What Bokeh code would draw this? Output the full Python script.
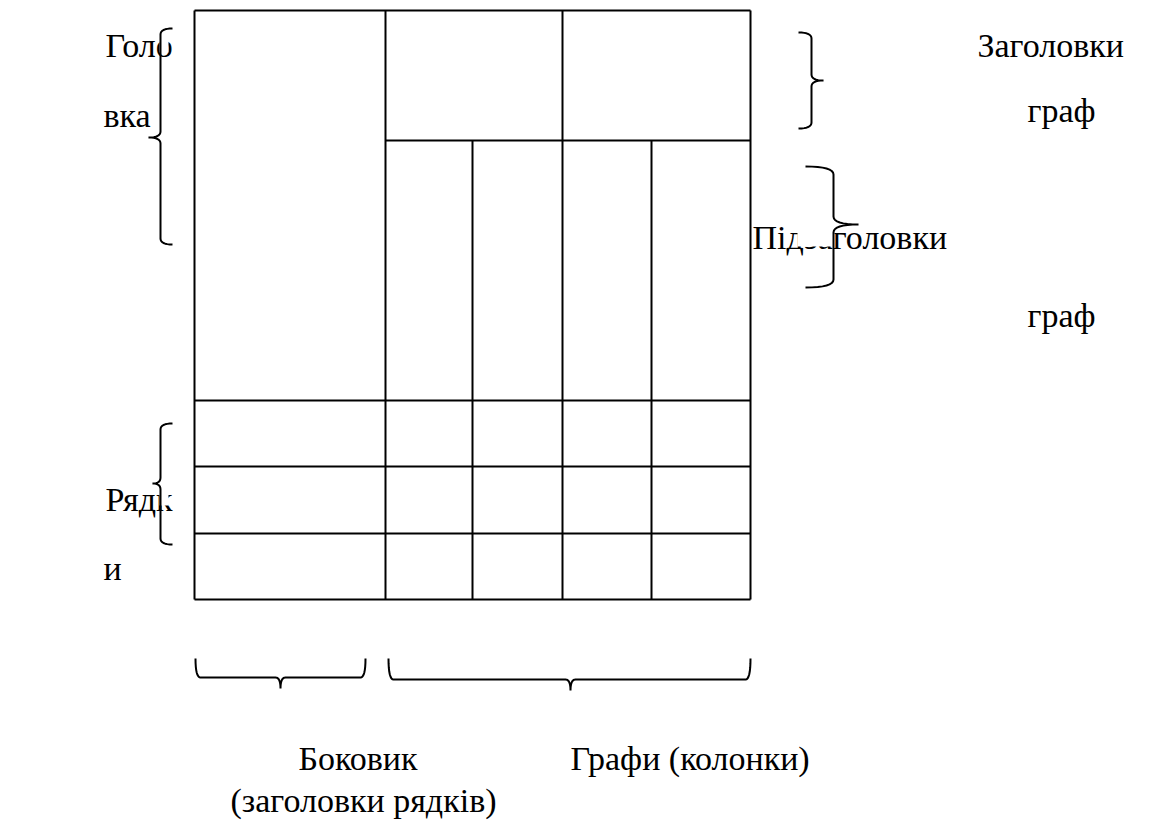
from bokeh.plotting import figure
from bokeh.models import Range1d
from bokeh.embed import file_html
from bokeh.resources import INLINE
from bokeh.core.properties import value

# ---- table structure (picture pixel coordinates) ----
col_x = [194, 385, 472, 562, 651, 750]
row_y = [10, 140, 400, 466, 533, 599]

# ---- labels ----
label_text = ["Голо", "вка", "Заголовки", "граф", "Підзаголовки", "граф",
              "Рядк", "и", "Боковик", "Графи (колонки)", "(заголовки рядків)"]
label_x = [105, 103, 977, 1027, 752, 1027, 105, 103, 298, 570, 230]
label_y = [45, 115, 45, 110, 237, 315, 499, 568, 758, 758, 800]

# white boxes where brace shapes hide parts of the words
cover_left = [159, 159, 797]
cover_right = [168, 168, 834]
cover_top = [12, 470, 205]
cover_bottom = [52, 505, 246]

# braces: kind, spine, start, end, tip position, hook offset, tip offset, radius
brace_kind = ["v", "v", "v", "v", "h", "h"]
brace_spine = [160, 811, 833, 160, 677, 679]
brace_start = [28, 32, 166, 423, 195, 388]
brace_end = [244, 128, 287, 544, 365, 750]
brace_tip = [137, 80, 224, 483, 280, 570]
brace_hook = [12, -13, -28, 12, -19, -21]
brace_tipoff = [-12, 12, 25, -8, 11, 11]
brace_rad = [6, 6, 8, 6, 5, 5]

W, H = 1134, 822
p = figure(width=W, height=H, output_backend="svg", toolbar_location=None,
           x_range=Range1d(0, W), y_range=Range1d(H, 0),
           min_border=0, min_border_left=0, min_border_right=0,
           min_border_top=0, min_border_bottom=0)
p.axis.visible = False
p.grid.visible = False
p.outline_line_color = None
p.background_fill_color = "white"
p.border_fill_color = "white"

# table lines
x0s, y0s, x1s, y1s = [], [], [], []
x0s.append(col_x[0]); x1s.append(col_x[-1]); y0s.append(row_y[0]); y1s.append(row_y[0])
x0s.append(col_x[1]); x1s.append(col_x[-1]); y0s.append(row_y[1]); y1s.append(row_y[1])
for yy in row_y[2:]:
    x0s.append(col_x[0]); x1s.append(col_x[-1]); y0s.append(yy); y1s.append(yy)
for xx in [col_x[0], col_x[1], col_x[3], col_x[5]]:
    x0s.append(xx); x1s.append(xx); y0s.append(row_y[0]); y1s.append(row_y[-1])
for xx in [col_x[2], col_x[4]]:
    x0s.append(xx); x1s.append(xx); y0s.append(row_y[1]); y1s.append(row_y[-1])
p.segment(x0=x0s, y0=y0s, x1=x1s, y1=y1s, line_color="black", line_width=2)

p.text(x=label_x, y=label_y, text=label_text,
       text_font=value("Liberation Serif"), text_font_size="34px",
       text_baseline="alphabetic", text_align="left", text_color="black")

p.quad(left=cover_left, right=cover_right, top=cover_top, bottom=cover_bottom,
       fill_color="white", line_color=None)


def qb(a, b, c, n=8):
    out = []
    for i in range(1, n + 1):
        t = i / n
        out.append(((1 - t) ** 2 * a[0] + 2 * (1 - t) * t * b[0] + t * t * c[0],
                    (1 - t) ** 2 * a[1] + 2 * (1 - t) * t * b[1] + t * t * c[1]))
    return out


def brace(kind, s, a0, a1, m, hd, td, r):
    pts = [(a0, s + hd)]
    pts += qb((a0, s + hd), (a0, s), (a0 + r, s))
    pts.append((m - r, s))
    pts += qb((m - r, s), (m, s), (m, s + td))
    pts += qb((m, s + td), (m, s), (m + r, s))
    pts.append((a1 - r, s))
    pts += qb((a1 - r, s), (a1, s), (a1, s + hd))
    if kind == "v":
        return [q[1] for q in pts], [q[0] for q in pts]
    return [q[0] for q in pts], [q[1] for q in pts]


bxs, bys = [], []
for i in range(len(brace_kind)):
    bx, by = brace(brace_kind[i], brace_spine[i], brace_start[i], brace_end[i],
                   brace_tip[i], brace_hook[i], brace_tipoff[i], brace_rad[i])
    bxs.append(bx); bys.append(by)
p.multi_line(xs=bxs, ys=bys, line_color="black", line_width=2)

open("out.html", "w").write(file_html(p, INLINE))
